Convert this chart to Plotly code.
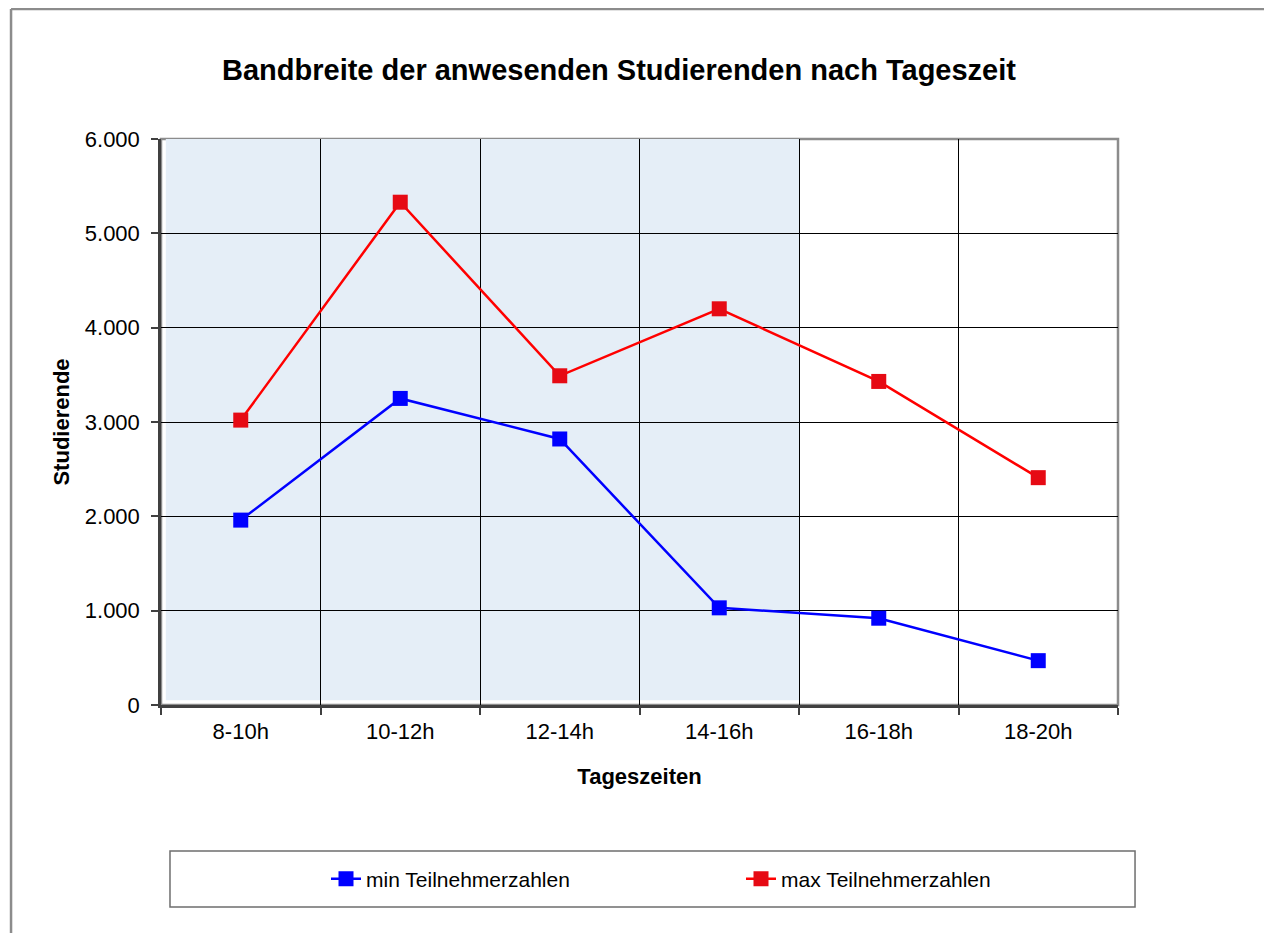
import plotly.graph_objects as go

# Werte
tageszeiten = ["8-10h", "10-12h", "12-14h", "14-16h", "16-18h", "18-20h"]
min_teilnehmer = [1960, 3250, 2820, 1030, 920, 470]
max_teilnehmer = [3020, 5330, 3490, 4200, 3430, 2410]

FONT = "Liberation Sans, Arial, sans-serif"

fig = go.Figure()

fig.add_trace(go.Scatter(
    x=tageszeiten, y=min_teilnehmer, name="min Teilnehmerzahlen",
    mode="lines+markers",
    line=dict(color="#0000FF", width=2.5),
    marker=dict(symbol="square", size=15, color="#0000FF"),
))
fig.add_trace(go.Scatter(
    x=tageszeiten, y=max_teilnehmer, name="max Teilnehmerzahlen",
    mode="lines+markers",
    line=dict(color="#FF0000", width=2.5),
    marker=dict(symbol="square", size=15, color="#E60A14"),
))

shapes = [
    # shaded area behind the first four time slots
    dict(type="rect", xref="x", yref="y", x0=-0.47, x1=3.5, y0=50, y1=6000,
         fillcolor="#E5EEF7", line_width=0, layer="below"),
    # gray frame of the plot area (top/right)
    dict(type="rect", xref="paper", yref="paper", x0=0, x1=1, y0=0, y1=1,
         line=dict(color="#8C8C8C", width=2.5), layer="below"),
    # legend box
    dict(type="rect", xref="paper", yref="paper", x0=0.0094, x1=1.0178,
         y0=-0.3569, y1=-0.258, line=dict(color="#6E6E6E", width=1.5)),
    # outer chart border (left and top edges visible)
    dict(type="line", xref="paper", yref="paper", x0=-0.1567, x1=-0.1567,
         y0=-0.6, y1=1.2297, line=dict(color="#8C8C8C", width=2.5)),
    dict(type="line", xref="paper", yref="paper", x0=-0.1567, x1=1.3,
         y0=1.2297, y1=1.2297, line=dict(color="#8C8C8C", width=2.5)),
]

fig.update_layout(
    width=1272, height=933,
    margin=dict(l=153, r=162, t=131, b=236),
    paper_bgcolor="white", plot_bgcolor="white",
    font=dict(family=FONT, size=22, color="black"),
    separators=",.",
    title=dict(text="<b>Bandbreite der anwesenden Studierenden nach Tageszeit</b>",
               font=dict(size=29, color="black"),
               x=611 / 1272, xanchor="center", xref="container",
               y=1 - 62 / 933, yanchor="middle", yref="container"),
    shapes=shapes,
    showlegend=True,
    legend=dict(orientation="h", xref="container", yref="container",
                x=0.25, xanchor="left", y=1 - 871 / 933, yanchor="middle",
                font=dict(size=21), entrywidth=370, bgcolor="rgba(0,0,0,0)",
                itemclick=False),
)

fig.update_xaxes(
    type="category", range=[-0.5, 5.5], tickson="boundaries",
    showgrid=True, gridcolor="black", gridwidth=1,
    showline=True, linecolor="#404040", linewidth=2.5,
    ticks="outside", ticklen=7, tickcolor="#404040", tickwidth=1.5,
    ticklabelstandoff=5,
    title=dict(text="<b>Tageszeiten</b>", font=dict(size=22), standoff=26),
)
fig.update_yaxes(
    range=[0, 6000], dtick=1000, tickformat=",d",
    showgrid=True, gridcolor="black", gridwidth=1, zeroline=False,
    showline=True, linecolor="#404040", linewidth=2.5,
    ticks="outside", ticklen=7, tickcolor="#404040", tickwidth=1.5,
    ticklabelstandoff=7,
    title=dict(text="<b>Studierende</b>", font=dict(size=22), standoff=10),
)

fig.write_html("out.html")
